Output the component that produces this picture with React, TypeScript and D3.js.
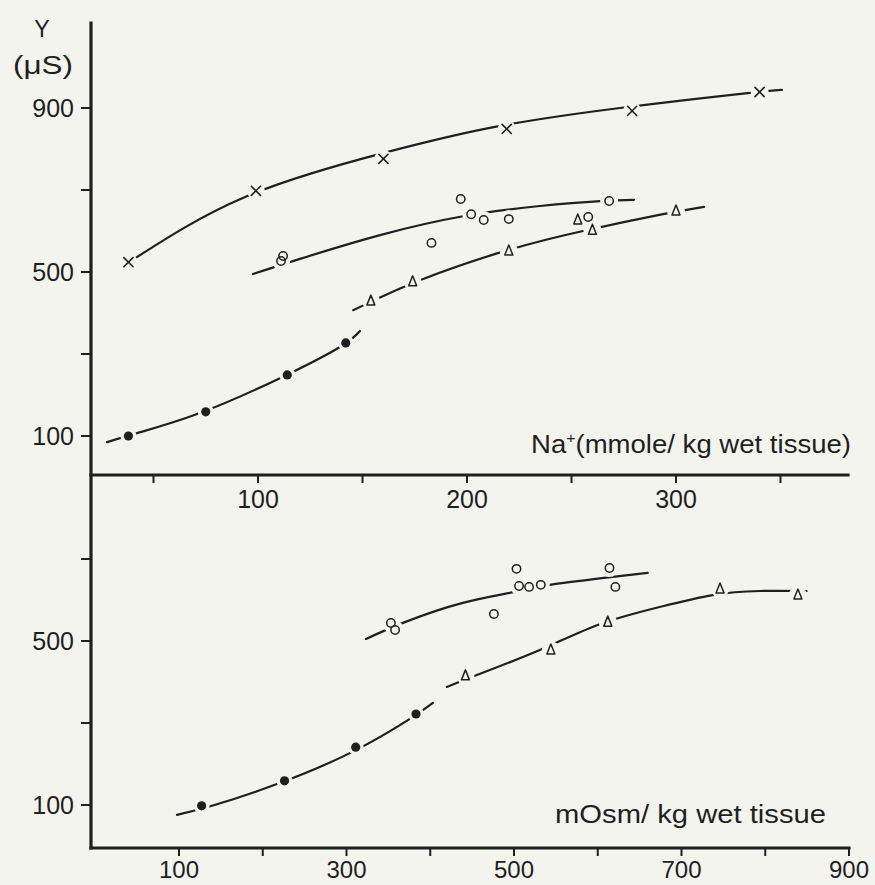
import React from "react";
import * as d3 from "d3";

// ---- Upper panel: conductance Y (µS) against Na+ content (mmole/kg wet tissue)
const naCrossX = [38, 99, 160, 219, 279, 340];
const naCrossY = [524, 698, 776, 849, 893, 939];
const naCircleX = [111, 112, 183, 197, 202, 208, 220, 258, 268];
const naCircleY = [527, 539, 571, 678, 641, 627, 629, 634, 673];
const naTriX = [154, 174, 220, 253, 260, 300];
const naTriY = [429, 476, 551, 627, 602, 649];
const naDotX = [38, 75, 114, 142];
const naDotY = [100, 159, 249, 327];

// hand-fitted curves through each group
const naCrossFitX = [38.3, 93.8, 159.8, 213.4, 273.2, 335.4, 350.7];
const naCrossFitY = [524, 683, 790, 854, 900, 937, 944];
const naCircleFitX = [97.6, 120.1, 158.4, 198.1, 234.9, 263.6, 279.9];
const naCircleFitY = [495, 532, 590, 636, 661, 673, 676];
const naTriFitX = [145.5, 156, 177.5, 216.7, 255.5, 293.8, 313.4];
const naTriFitY = [407, 432, 480, 549, 600, 641, 659];
const naDotFitX = [27.8, 42.1, 72.2, 110.5, 139.2, 148.8];
const naDotFitY = [85, 107, 156, 241, 317, 356];

// ---- Lower panel: Y (µS) against osmolality (mOsm/kg wet tissue)
const osmCircleX = [503, 506, 518, 532, 614, 621, 476, 353, 358];
const osmCircleY = [676, 634, 632, 637, 678, 632, 566, 544, 527];
const osmTriX = [442, 544, 612, 746, 839];
const osmTriY = [415, 478, 546, 627, 612];
const osmDotX = [127, 226, 311, 383];
const osmDotY = [98, 159, 241, 322];

const osmCircleFitX = [323.2, 369.7, 438.9, 501, 542.7, 659.7];
const osmCircleFitY = [505, 546, 593, 620, 637, 666];
const osmTriFitX = [419.8, 455.6, 530.8, 602.4, 674, 737.2, 793.3, 849.4];
const osmTriFitY = [388, 417, 478, 541, 583, 612, 622, 622];
const osmDotFitX = [97.6, 139.4, 216.9, 306.4, 375.7, 403.1];
const osmDotFitY = [76, 98, 151, 229, 310, 349];

// ---- Axis ticks
const yTicks = [100, 300, 500, 700, 900];
const yTickLabels = [100, 500, 900];
const yTicksLower = [100, 300, 500, 700];
const yTickLabelsLower = [100, 500];
const naTicks = [50, 100, 150, 200, 250, 300, 350];
const naTickLabels = [100, 200, 300];
const osmTicks = [100, 200, 300, 400, 500, 600, 700, 800, 900];
const osmTickLabels = [100, 300, 500, 700, 900];

const W = 875;
const H = 885;
const BG = "#f4f4ef";
const INK = "#1f1f1f";
const FONT = "'Liberation Sans', Arial, sans-serif";

const axisX = 91;
const axisTop = 23;
const upperAxisY = 475;
const lowerAxisY = 848;

const xNa = d3.scaleLinear().domain([100, 300]).range([258, 676]);
const yUp = d3.scaleLinear().domain([100, 900]).range([436, 108]);
const xOsm = d3.scaleLinear().domain([100, 900]).range([179, 849]);
const yLow = d3.scaleLinear().domain([100, 700]).range([805, 559]);

type Scale = d3.ScaleLinear<number, number>;
type Pt = [number, number];
type Kind = "cross" | "circle" | "tri" | "dot";
const zip = (xs: number[], ys: number[]): Pt[] => xs.map((x, i) => [x, ys[i]]);

const fitLine = (sx: Scale, sy: Scale) =>
  d3
    .line<Pt>()
    .x((d) => sx(d[0]))
    .y((d) => sy(d[1]))
    .curve(d3.curveNatural);

const fits: { xs: number[]; ys: number[]; sx: Scale; sy: Scale }[] = [
  { xs: naCrossFitX, ys: naCrossFitY, sx: xNa, sy: yUp },
  { xs: naCircleFitX, ys: naCircleFitY, sx: xNa, sy: yUp },
  { xs: naTriFitX, ys: naTriFitY, sx: xNa, sy: yUp },
  { xs: naDotFitX, ys: naDotFitY, sx: xNa, sy: yUp },
  { xs: osmCircleFitX, ys: osmCircleFitY, sx: xOsm, sy: yLow },
  { xs: osmTriFitX, ys: osmTriFitY, sx: xOsm, sy: yLow },
  { xs: osmDotFitX, ys: osmDotFitY, sx: xOsm, sy: yLow },
];

const series: { xs: number[]; ys: number[]; kind: Kind; sx: Scale; sy: Scale }[] = [
  { xs: naCrossX, ys: naCrossY, kind: "cross", sx: xNa, sy: yUp },
  { xs: naCircleX, ys: naCircleY, kind: "circle", sx: xNa, sy: yUp },
  { xs: naTriX, ys: naTriY, kind: "tri", sx: xNa, sy: yUp },
  { xs: naDotX, ys: naDotY, kind: "dot", sx: xNa, sy: yUp },
  { xs: osmCircleX, ys: osmCircleY, kind: "circle", sx: xOsm, sy: yLow },
  { xs: osmTriX, ys: osmTriY, kind: "tri", sx: xOsm, sy: yLow },
  { xs: osmDotX, ys: osmDotY, kind: "dot", sx: xOsm, sy: yLow },
];

function Marker({ x, y, kind }: { x: number; y: number; kind: Kind }) {
  if (kind === "cross") {
    const s = 4.6;
    return (
      <g stroke={INK} strokeWidth={1.6} strokeLinecap="round">
        <line x1={x - s} y1={y - s} x2={x + s} y2={y + s} />
        <line x1={x - s} y1={y + s} x2={x + s} y2={y - s} />
      </g>
    );
  }
  if (kind === "circle") {
    return <circle cx={x} cy={y} r={4.2} fill="none" stroke={INK} strokeWidth={1.5} />;
  }
  if (kind === "tri") {
    const h = 10;
    const w = 8;
    const p = `M${x},${y - h * 0.6}L${x + w / 2},${y + h * 0.4}L${x - w / 2},${y + h * 0.4}Z`;
    return <path d={p} fill="none" stroke={INK} strokeWidth={1.5} strokeLinejoin="round" />;
  }
  return <circle cx={x} cy={y} r={4.6} fill={INK} />;
}

export default function App() {
  const tickFont = { fontFamily: FONT, fontSize: 25, fill: INK } as const;
  return (
    <svg
      width={W}
      height={H}
      viewBox={`0 0 ${W} ${H}`}
      style={{ position: "absolute", left: 0, top: 0, display: "block" }}
    >
      <rect x={0} y={0} width={W} height={H} fill={BG} />

      {/* fitted curves */}
      {fits.map((f, i) => (
        <path
          key={"f" + i}
          d={fitLine(f.sx, f.sy)(zip(f.xs, f.ys)) || ""}
          fill="none"
          stroke={INK}
          strokeWidth={2.2}
          strokeLinecap="round"
        />
      ))}

      {/* the fitted lines are broken around each point */}
      {series.map((s, i) =>
        zip(s.xs, s.ys).map((d, j) => (
          <circle key={`h${i}-${j}`} cx={s.sx(d[0])} cy={s.sy(d[1])} r={s.kind === "dot" ? 8 : 9} fill={BG} />
        ))
      )}

      {/* data points */}
      {series.map((s, i) =>
        zip(s.xs, s.ys).map((d, j) => <Marker key={`m${i}-${j}`} x={s.sx(d[0])} y={s.sy(d[1])} kind={s.kind} />)
      )}

      {/* axes */}
      <g stroke={INK} strokeWidth={3.2} strokeLinecap="square">
        <line x1={axisX} y1={axisTop} x2={axisX} y2={lowerAxisY} />
        <line x1={axisX} y1={upperAxisY} x2={848} y2={upperAxisY} />
        <line x1={axisX} y1={lowerAxisY} x2={xOsm(900)} y2={lowerAxisY} />
      </g>

      {/* ticks */}
      <g stroke={INK} strokeWidth={2}>
        {yTicks.map((t) => (
          <line key={"yu" + t} x1={axisX - 10} x2={axisX} y1={yUp(t)} y2={yUp(t)} />
        ))}
        {yTicksLower.map((t) => (
          <line key={"yl" + t} x1={axisX - 10} x2={axisX} y1={yLow(t)} y2={yLow(t)} />
        ))}
        {naTicks.map((t) => (
          <line key={"xn" + t} x1={xNa(t)} x2={xNa(t)} y1={upperAxisY} y2={upperAxisY + 8} />
        ))}
        {osmTicks.map((t) => (
          <line key={"xo" + t} x1={xOsm(t)} x2={xOsm(t)} y1={lowerAxisY} y2={lowerAxisY + 8} />
        ))}
      </g>

      {/* tick labels */}
      <g {...tickFont}>
        {yTickLabels.map((t) => (
          <text key={"lu" + t} x={axisX - 17} y={yUp(t) + 9} textAnchor="end">
            {t}
          </text>
        ))}
        {yTickLabelsLower.map((t) => (
          <text key={"ll" + t} x={axisX - 17} y={yLow(t) + 9} textAnchor="end">
            {t}
          </text>
        ))}
        {naTickLabels.map((t) => (
          <text key={"ln" + t} x={xNa(t)} y={508} textAnchor="middle">
            {t}
          </text>
        ))}
        {osmTickLabels.map((t) => (
          <text key={"lo" + t} x={xOsm(t)} y={878} fontSize={24} textAnchor="middle">
            {t}
          </text>
        ))}
      </g>

      {/* axis titles */}
      <text x={42} y={37} textAnchor="middle" fontFamily={FONT} fontSize={23} fill={INK}>
        Y
      </text>
      <text x={13} y={74} fontFamily={FONT} fontSize={25} fill={INK} textLength={60} lengthAdjust="spacingAndGlyphs">
        (μS)
      </text>
      <text x={531} y={453} fontFamily={FONT} fontSize={26} fill={INK} textLength={320} lengthAdjust="spacingAndGlyphs">
        Na
        <tspan dy={-10} fontSize={15}>
          +
        </tspan>
        <tspan dy={10}>(mmole/ kg wet tissue)</tspan>
      </text>
      <text x={555} y={823} fontFamily={FONT} fontSize={25} fill={INK} textLength={271} lengthAdjust="spacingAndGlyphs">
        mOsm/ kg  wet tissue
      </text>
    </svg>
  );
}
